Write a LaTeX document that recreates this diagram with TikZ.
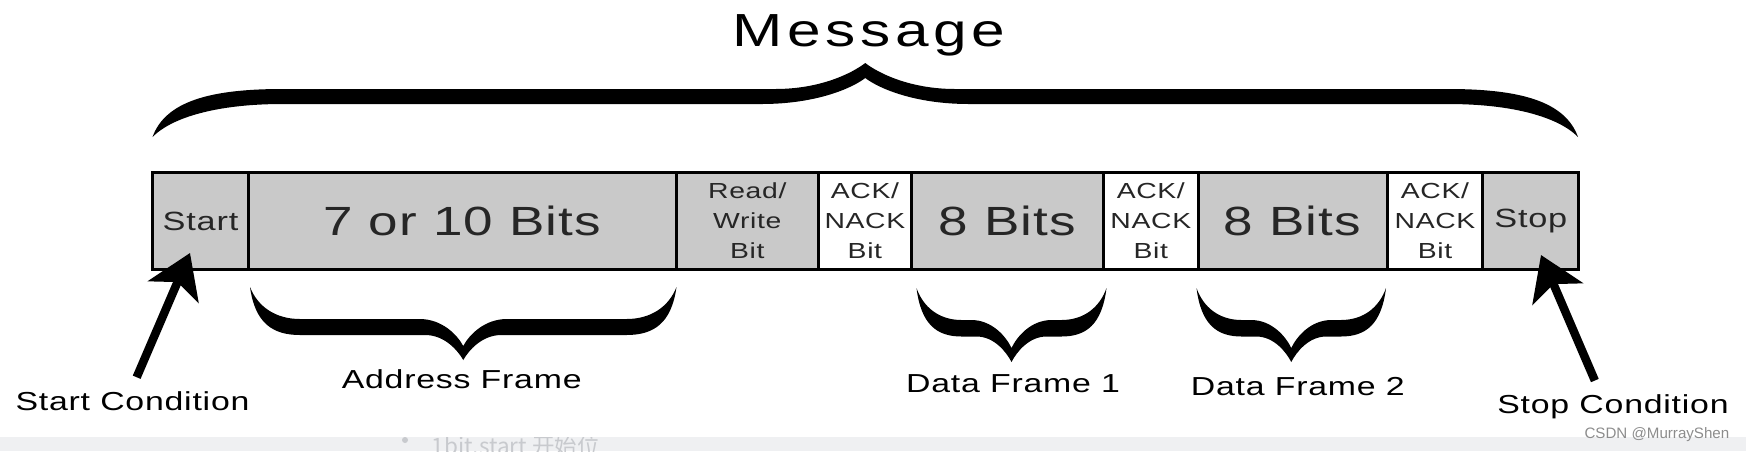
\documentclass[tikz,border=0pt]{standalone}
\usepackage{fontspec}
\setmainfont{Liberation Sans}[FakeStretch=1.3,LetterSpace=3]
\newfontfamily\markfont{Liberation Sans}
\newfontfamily\cjkfont{Noto Sans CJK SC}
\usetikzlibrary{arrows.meta,positioning}
\definecolor{cellgray}{RGB}{201,201,201}
\definecolor{stripgray}{RGB}{239,240,242}
\definecolor{faintgray}{RGB}{200,202,206}
\tikzset{>=Stealth}

% curly brace as a filled shape: xa, xb, y ends, y outer, y inner, y tip, y cusp, end bend, tip bend
\newcommand{\fatbrace}[9]{%
  \fill ({#1},{#3}) .. controls ({#1+0.1*#8},{0.75*#4+0.25*#3}) and ({#1+0.45*#8},{#4}) .. ({#1+#8},{#4})
    -- ({(#1+#2)/2-#9},{#4}) .. controls ({(#1+#2)/2-0.5*#9},{#4}) and ({(#1+#2)/2-0.15*#9},{0.6*#6+0.4*#4}) .. ({(#1+#2)/2},{#6})
    .. controls ({(#1+#2)/2+0.15*#9},{0.6*#6+0.4*#4}) and ({(#1+#2)/2+0.5*#9},{#4}) .. ({(#1+#2)/2+#9},{#4})
    -- ({#2-#8},{#4}) .. controls ({#2-0.45*#8},{#4}) and ({#2-0.1*#8},{0.75*#4+0.25*#3}) .. ({#2},{#3})
    .. controls ({#2-0.15*#8},{0.6*#5+0.4*#3}) and ({#2-0.5*#8},{#5}) .. ({#2-#8},{#5})
    -- ({(#1+#2)/2+1.15*#9},{#5}) .. controls ({(#1+#2)/2+0.55*#9},{#5}) and ({(#1+#2)/2+0.15*#9},{0.6*#7+0.4*#5}) .. ({(#1+#2)/2},{#7})
    .. controls ({(#1+#2)/2-0.15*#9},{0.6*#7+0.4*#5}) and ({(#1+#2)/2-0.55*#9},{#5}) .. ({(#1+#2)/2-1.15*#9},{#5})
    -- ({#1+#8},{#5}) .. controls ({#1+0.5*#8},{#5}) and ({#1+0.15*#8},{0.6*#5+0.4*#3}) .. ({#1},{#3}) -- cycle;}

\tikzset{
  cell/.style={draw, line width=0.9pt, fill=cellgray, minimum width=#1, minimum height=0.966cm,
    inner sep=0pt, outer sep=0pt, text=black!85},
  ackcell/.style={cell=#1, fill=white, align=center, font=\fontsize{6.2}{8.5}\selectfont},
  endcell/.style={cell=#1, font=\fontsize{7.5}{9}\selectfont},
  bigbits/.style={font=\fontsize{11.6}{14}\selectfont},
  framename/.style={font=\fontsize{7.4}{9}\selectfont, inner sep=1pt},
  bigarrow/.style={-{Stealth[length=12pt,width=15.5pt,inset=3pt]}, line width=2.4pt}
}

\begin{document}
\begin{tikzpicture}[x=0.01cm, y=-0.01cm]
  \useasboundingbox (0,0) rectangle (1746,451);
  \fill[stripgray] (0,437) rectangle (1746,451);
  \begin{scope}
    \clip (0,437) rectangle (1746,451);
    \fill[faintgray] (405,440) circle [radius=3];
    \node[anchor=base west, inner sep=0pt, text=faintgray, font=\cjkfont\fontsize{6.4}{8}\selectfont] (note) at (431,454) {1bit.start 开始位};
  \end{scope}

  % the frame
  \node[endcell=0.96cm] (st) at (200.5,221) {Start};
  \node[cell=4.275cm, bigbits, right=0pt of st] (addr) {7 or 10 Bits};
  \node[ackcell=1.42cm, fill=cellgray, right=0pt of addr] (rw) {Read/\\Write\\Bit};
  \node[ackcell=0.93cm, right=0pt of rw] (ack1) {ACK/\\NACK\\Bit};
  \node[cell=1.92cm, bigbits, right=0pt of ack1] (data1) {8 Bits};
  \node[ackcell=0.945cm, right=0pt of data1] (ack2) {ACK/\\NACK\\Bit};
  \node[cell=1.89cm, bigbits, right=0pt of ack2] (data2) {8 Bits};
  \node[ackcell=0.955cm, right=0pt of data2] (ack3) {ACK/\\NACK\\Bit};
  \node[endcell=0.96cm, right=0pt of ack3] (sp) {Stop};

  % braces
  \node[anchor=base, font=\fontsize{13.2}{16}\selectfont\addfontfeatures{LetterSpace=10}] (msg) at (868.9,46.7) {Message};
  \fatbrace{152.5}{1578}{137}{89}{104}{63}{78}{130}{90}
  \fatbrace{250}{676.5}{287}{335}{319}{360}{346}{50}{38}
  \fatbrace{916.5}{1106.5}{288}{336.5}{320}{362}{348}{45}{35}
  \fatbrace{1196.5}{1386}{288}{336.5}{320}{362}{348}{45}{35}
  \node[framename, anchor=base] (addrname) at (461.7,388.3) {Address Frame};
  \node[framename, anchor=base] (d1name) at (1013,392.7) {Data Frame 1};
  \node[framename, anchor=base] (d2name) at (1297.8,395) {Data Frame 2};

  % start and stop
  \node[framename, anchor=base] (stcond) at (132.5,410) {Start Condition};
  \node[framename, anchor=base] (spcond) at (1613,413.3) {Stop Condition};
  \coordinate (sttip) at (190,253);
  \coordinate (sptip) at (1541,255);
  \draw[bigarrow, shorten <=3pt] (stcond.north) -- (sttip);
  \draw[bigarrow, shorten <=3pt] ([xshift=-0.14cm]spcond.north) -- (sptip);

  \node[anchor=base east, inner sep=0pt, text=black!45, font=\markfont\fontsize{4.3}{5}\selectfont] (mark) at (1730,438) {CSDN @MurrayShen};
\end{tikzpicture}
\end{document}
